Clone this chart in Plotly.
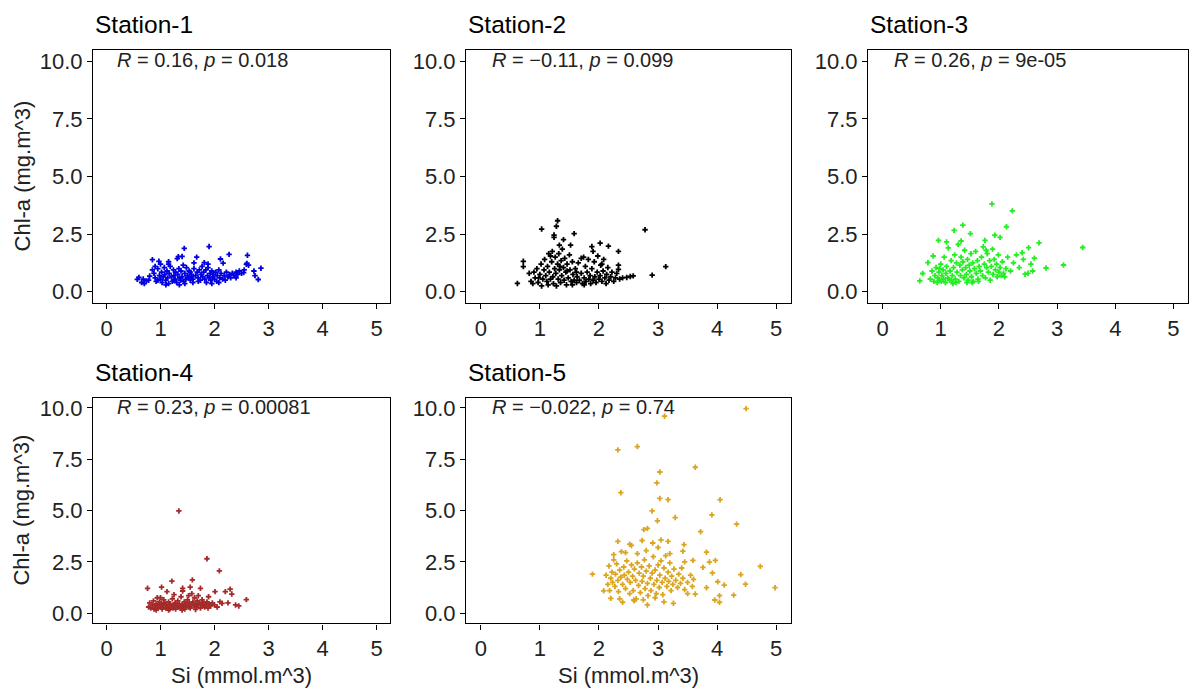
import plotly.graph_objects as go

# ---------------- data ----------------
station_names = ["Station-1", "Station-2", "Station-3", "Station-4", "Station-5"]
station_colors = ["#0000E0", "#000000", "#22EE22", "#A52A2A", "#DAA520"]
cor_labels = [
    "<i>R</i> = 0.16, <i>p</i> = 0.018",
    "<i>R</i> = \u22120.11, <i>p</i> = 0.099",
    "<i>R</i> = 0.26, <i>p</i> = 9e-05",
    "<i>R</i> = 0.23, <i>p</i> = 0.00081",
    "<i>R</i> = \u22120.022, <i>p</i> = 0.74",
]
x_ticks = [0, 1, 2, 3, 4, 5]
y_ticks = [0, 2.5, 5, 7.5, 10]
y_tick_labels = ["0.0", "2.5", "5.0", "7.5", "10.0"]

station1_points = [
    (0.57,0.54),(0.65,0.40),(0.74,0.47),(0.60,0.62),(0.68,0.55),(0.70,0.35),(0.78,0.50),(0.80,0.68),
    (0.85,1.39),(0.97,1.32),(1.15,1.30),(1.31,1.44),(1.33,1.52),(1.40,1.53),(1.44,1.88),(1.67,1.50),
    (1.81,1.26),(1.90,1.96),(2.11,1.42),(2.16,1.24),(2.27,1.62),(2.61,1.58),(2.60,1.23),(2.59,1.19),
    (2.63,1.15),(2.86,1.02),(2.73,0.90),(2.75,0.70),(2.81,0.53),(2.54,0.83),
    (0.85,0.95),(0.88,0.80),(0.90,0.60),(0.92,0.45),(0.95,1.00),(0.98,0.70),(1.00,0.55),(1.02,0.85),
    (1.03,0.40),(1.05,0.65),(1.07,1.05),(1.08,0.75),(1.10,0.50),(1.12,0.90),(1.13,0.60),(1.15,0.35),
    (1.16,0.80),(1.18,1.10),(1.20,0.65),(1.22,0.45),(1.24,0.95),(1.25,0.70),(1.27,0.55),(1.28,0.85),
    (1.30,0.40),(1.32,0.75),(1.34,1.00),(1.35,0.60),(1.37,0.50),(1.38,0.90),(1.40,0.65),(1.42,1.15),
    (1.43,0.45),(1.45,0.80),(1.47,0.55),(1.48,1.05),(1.50,0.70),(1.52,0.60),(1.53,0.90),(1.55,0.50),
    (1.57,0.75),(1.58,0.65),(1.60,0.55),(1.62,1.00),(1.65,0.70),(1.68,0.85),(1.70,0.60),(1.72,0.95),
    (1.74,0.50),(1.75,0.75),(1.77,1.10),(1.78,0.65),(1.80,0.85),(1.82,0.55),(1.84,0.95),(1.85,0.40),
    (1.87,0.70),(1.88,1.05),(1.90,0.60),(1.92,0.80),(1.93,0.50),(1.95,0.90),(1.97,0.65),(1.98,0.75),
    (2.00,0.55),(2.02,0.85),(2.04,0.45),(2.05,0.70),(2.08,0.95),(2.10,0.60),(2.12,0.80),(2.15,0.55),
    (2.18,0.70),(2.20,0.50),(2.22,0.85),(2.25,0.65),(2.28,0.75),(2.30,0.60),(2.33,0.80),(2.36,0.70),
    (2.40,0.85),(2.43,0.75),(2.46,0.90),(2.50,0.80),(2.55,0.95),(1.95,0.35),(1.45,0.35),(1.10,0.30),
    (1.60,0.40),(0.95,0.50),(1.25,0.50),(1.70,0.45),(2.08,0.40),(1.35,0.30),(1.55,0.85),(1.15,1.20),
    (0.90,1.10),(1.88,1.20),(1.62,1.25),(1.00,1.20),(2.40,0.60),
]

station2_points = [
    (1.30,3.08),(1.28,2.84),(1.03,2.72),(1.58,2.52),(1.24,2.46),(1.24,2.36),(1.40,2.26),(1.52,2.02),
    (1.33,2.02),(1.88,1.96),(2.02,2.11),(2.16,1.98),(2.33,1.75),(2.78,2.69),(3.13,1.09),(2.90,0.72),
    (2.33,1.15),(2.33,0.97),(0.72,1.32),(0.72,1.09),(0.62,0.36),(2.53,0.66),(2.47,0.62),(2.58,0.69),
    (0.82,0.80),(0.85,0.45),(0.88,0.35),(0.90,0.85),(0.92,0.60),(0.95,1.00),(0.97,0.40),(1.00,0.75),
    (1.02,1.20),(1.03,0.25),(1.05,0.55),(1.07,0.95),(1.08,1.40),(1.10,0.70),(1.12,0.45),(1.13,1.10),
    (1.15,1.65),(1.16,0.85),(1.18,0.55),(1.20,1.30),(1.21,1.75),(1.22,0.65),(1.23,0.35),(1.25,1.00),
    (1.26,1.50),(1.27,0.80),(1.28,0.25),(1.30,1.20),(1.31,0.55),(1.32,1.65),(1.33,0.95),(1.35,0.40),
    (1.36,1.35),(1.37,0.70),(1.38,1.85),(1.40,1.05),(1.41,0.50),(1.42,1.45),(1.44,0.85),(1.45,0.30),
    (1.46,1.20),(1.48,0.60),(1.50,1.60),(1.51,0.95),(1.53,0.45),(1.55,1.30),(1.56,0.75),(1.58,0.50),
    (1.60,1.00),(1.62,0.40),(1.63,0.65),(1.65,1.25),(1.67,0.50),(1.70,0.80),(1.72,0.35),(1.74,1.50),
    (1.75,0.60),(1.77,1.10),(1.78,0.45),(1.80,0.85),(1.82,1.40),(1.83,0.55),(1.85,0.70),(1.86,0.35),
    (1.88,1.00),(1.90,0.50),(1.92,1.30),(1.93,0.65),(1.95,0.40),(1.97,0.85),(1.98,1.55),(2.00,0.55),
    (2.02,0.70),(2.03,1.15),(2.05,0.45),(2.07,0.90),(2.08,1.40),(2.10,0.60),(2.12,0.35),(2.13,0.75),
    (2.15,1.05),(2.17,0.50),(2.20,0.65),(2.22,0.85),(2.25,0.45),(2.28,0.60),(2.30,0.80),(2.35,0.55),
    (2.40,0.60),(1.14,0.30),(1.55,0.30),(1.75,0.30),(0.98,0.60),(1.18,1.55),(1.34,1.10),(1.46,0.90),
    (1.62,0.85),(1.70,1.45),(1.90,1.75),(2.05,1.20),
]

station3_points = [
    (1.88,3.81),(2.23,3.51),(2.13,2.82),(1.38,2.89),(1.23,2.66),(1.51,2.52),(3.44,1.92),(3.11,1.16),
    (2.81,1.03),(2.69,2.12),(2.51,1.91),(2.61,1.46),(0.96,2.23),(1.10,2.16),(0.64,0.47),(0.69,0.79),
    (0.78,1.26),(0.87,1.55),(1.93,2.45),(2.02,2.36),(1.76,2.23),(2.40,1.69),(2.45,0.76),(2.58,0.90),
    (0.82,0.55),(0.85,0.90),(0.88,0.45),(0.90,0.70),(0.92,1.05),(0.94,0.40),(0.95,0.60),(0.97,0.85),
    (0.98,0.50),(1.00,1.20),(1.01,0.45),(1.02,0.70),(1.04,0.95),(1.05,0.55),(1.06,1.50),(1.08,0.40),
    (1.09,0.80),(1.10,1.10),(1.12,0.60),(1.13,1.90),(1.15,0.50),(1.16,0.90),(1.18,1.35),(1.20,0.70),
    (1.21,0.35),(1.22,1.05),(1.24,1.60),(1.25,0.55),(1.27,1.25),(1.28,0.85),(1.30,2.05),(1.31,0.45),
    (1.33,1.15),(1.34,0.70),(1.35,1.50),(1.37,0.95),(1.38,1.30),(1.40,0.60),(1.41,1.80),(1.43,1.05),
    (1.44,0.75),(1.46,1.40),(1.47,0.50),(1.49,1.15),(1.50,0.90),(1.52,1.65),(1.53,0.65),(1.55,1.25),
    (1.56,0.45),(1.58,1.00),(1.60,1.75),(1.61,0.80),(1.63,1.35),(1.64,0.55),(1.66,1.10),(1.68,0.90),
    (1.70,1.50),(1.72,0.70),(1.73,1.95),(1.75,1.20),(1.77,0.60),(1.79,1.05),(1.80,1.65),(1.82,0.85),
    (1.84,1.35),(1.85,0.50),(1.87,1.10),(1.89,1.85),(1.90,0.75),(1.92,1.40),(1.94,0.95),(1.96,1.20),
    (1.97,0.65),(1.99,1.60),(2.00,0.85),(2.02,1.05),(2.04,0.70),(2.06,1.30),(2.08,0.80),(2.10,0.65),
    (2.12,1.00),(2.15,1.50),(2.20,0.90),(2.25,1.25),(2.30,1.60),(2.35,1.05),(2.42,1.40),(2.50,0.80),
    (2.55,1.20),(1.18,0.50),(1.45,0.40),(1.65,0.45),(0.98,1.00),(1.26,0.40),(1.54,0.40),(1.78,1.80),
    (1.35,2.20),
]

station4_points = [
    (1.34,4.98),(1.86,2.65),(2.09,2.06),(1.21,1.56),(1.59,1.62),(0.76,1.21),(1.02,1.27),(1.41,1.21),
    (1.41,1.08),(1.55,1.27),(1.74,1.21),(2.01,1.05),(2.29,1.17),(2.20,1.05),(2.32,0.93),(2.59,0.66),
    (2.39,0.40),(2.45,0.35),(2.14,0.48),(1.89,0.80),(1.12,1.05),
    (0.78,0.30),(0.80,0.50),(0.82,0.25),(0.85,0.40),(0.87,0.60),(0.88,0.20),(0.90,0.35),(0.92,0.45),
    (0.94,0.75),(0.95,0.25),(0.97,0.40),(0.98,0.55),(1.00,0.30),(1.02,0.45),(1.03,0.20),(1.05,0.35),
    (1.06,0.65),(1.08,0.50),(1.10,0.25),(1.11,0.40),(1.13,0.30),(1.15,0.55),(1.17,0.20),(1.18,0.45),
    (1.20,0.35),(1.22,0.70),(1.23,0.25),(1.25,0.40),(1.27,0.50),(1.28,0.20),(1.30,0.35),(1.32,0.60),
    (1.33,0.30),(1.35,0.45),(1.37,0.25),(1.38,0.80),(1.40,0.40),(1.42,0.30),(1.44,0.55),(1.45,0.20),
    (1.47,0.45),(1.48,0.35),(1.50,0.65),(1.52,0.30),(1.53,0.50),(1.55,0.25),(1.57,0.40),(1.58,0.95),
    (1.60,0.55),(1.62,0.35),(1.63,0.75),(1.65,0.45),(1.67,0.30),(1.68,0.60),(1.70,0.40),(1.72,0.50),
    (1.74,0.25),(1.75,0.45),(1.77,0.65),(1.78,0.35),(1.80,0.50),(1.82,0.30),(1.84,0.40),(1.86,0.55),
    (1.88,0.25),(1.90,0.45),(1.93,0.35),(1.96,0.50),(2.00,0.40),(2.05,0.30),(2.10,0.55),(1.15,0.15),
    (1.40,0.15),(1.65,0.18),(0.92,0.15),(1.25,0.90),(1.52,0.85),(1.00,0.75),(1.70,0.85),(2.25,0.50),
]

station5_points = [
    (4.49,9.97),(3.11,9.60),(2.32,7.96),(2.65,8.12),(3.63,7.11),(3.03,6.88),(2.98,6.35),(2.37,5.87),
    (3.03,5.59),(3.17,5.53),(4.05,5.53),(2.90,4.98),(3.91,4.79),(2.99,4.50),(3.29,4.66),(4.33,4.34),
    (3.72,3.97),(2.76,4.07),(2.82,4.13),(2.32,3.50),(2.52,3.36),(2.73,3.54),(2.91,3.42),(3.05,3.57),
    (3.17,3.50),(3.44,3.34),(3.42,3.02),(3.82,2.97),(3.59,2.57),(3.76,2.23),(3.87,2.49),(3.97,2.57),
    (4.73,2.28),(3.92,1.96),(4.40,1.88),(4.48,1.41),(4.98,1.24),(4.01,1.53),(4.12,1.37),(3.82,1.24),
    (4.28,0.88),(4.04,0.85),(3.96,0.64),(4.04,0.53),(3.63,0.93),(1.89,1.90),(2.08,1.09),(2.20,0.72),
    (2.40,0.53),(2.59,0.64),(2.82,0.40),(3.26,0.48),
    (2.12,1.85),(2.15,1.40),(2.17,2.30),(2.18,1.10),(2.20,1.70),(2.22,2.00),(2.23,1.50),(2.25,2.85),
    (2.27,1.30),(2.28,1.90),(2.30,2.40),(2.32,1.60),(2.33,1.05),(2.35,2.10),(2.37,1.75),(2.38,3.00),
    (2.40,1.40),(2.42,2.25),(2.43,1.85),(2.45,1.20),(2.47,2.55),(2.48,1.65),(2.50,2.00),(2.52,0.95),
    (2.53,1.50),(2.55,2.35),(2.57,1.80),(2.58,1.10),(2.60,2.15),(2.62,1.60),(2.63,0.70),(2.65,2.45),
    (2.67,1.35),(2.68,1.95),(2.70,1.00),(2.72,2.25),(2.73,1.55),(2.75,1.80),(2.77,2.60),(2.78,1.20),
    (2.80,2.05),(2.82,1.45),(2.83,0.85),(2.85,2.30),(2.87,1.70),(2.88,1.10),(2.90,1.95),(2.92,2.75),
    (2.93,1.40),(2.95,2.10),(2.97,0.95),(2.98,1.60),(3.00,2.35),(3.02,1.25),(3.03,1.85),(3.05,2.55),
    (3.07,1.50),(3.08,0.90),(3.10,2.20),(3.12,1.70),(3.13,2.80),(3.15,1.30),(3.17,2.00),(3.18,1.55),
    (3.20,2.45),(3.22,1.10),(3.23,1.80),(3.25,1.40),(3.27,2.15),(3.30,1.60),(3.33,1.25),(3.35,1.90),
    (3.38,1.45),(3.42,1.70),(3.45,1.15),(3.50,1.50),(3.55,1.85),(3.58,1.30),(3.60,1.65),(2.60,0.60),
    (2.75,0.65),(2.95,0.75),(3.10,0.55),(2.35,0.70),(2.55,3.30),(2.80,3.05),(3.00,3.20),(3.20,2.90),
    (3.40,2.20),(2.45,2.95),(2.65,2.90),(2.25,2.60),(3.45,2.50),(3.50,0.95),
]

all_points = [station1_points, station2_points, station3_points, station4_points, station5_points]

x_title = "Si (mmol.m^3)"
y_title = "Chl-a (mg.m^3)"

# ---------------- layout geometry ----------------
W, H = 1198, 696
FONT = "Liberation Sans, Arial, sans-serif"
col_px = [(93, 390), (466, 791), (868, 1188)]
row_px = [(48, 303), (398, 625)]
panel_pos = [(0, 0), (0, 1), (0, 2), (1, 0), (1, 1)]

fig = go.Figure()
annotations = []

for i, (pts, name, color, lab) in enumerate(zip(all_points, station_names, station_colors, cor_labels)):
    r, c = panel_pos[i]
    k = "" if i == 0 else str(i + 1)
    xs = [p[0] for p in pts]
    ys = [p[1] for p in pts]
    fig.add_trace(go.Scatter(
        x=xs, y=ys, mode="markers", xaxis="x" + k, yaxis="y" + k,
        marker=dict(symbol="cross", size=4.5, color=color, line=dict(width=0)),
        showlegend=False, hoverinfo="x+y",
    ))
    x0, x1 = col_px[c]
    t0, t1 = row_px[r]
    xdom = [x0 / W, x1 / W]
    ydom = [1 - t1 / H, 1 - t0 / H]
    axis_common = dict(
        showline=True, mirror=True, linecolor="black", linewidth=1.2,
        ticks="outside", ticklen=5, tickwidth=1.2, tickcolor="black",
        showgrid=False, zeroline=False,
        tickfont=dict(family=FONT, size=22, color="#222222"),
    )
    fig.update_layout(**{
        "xaxis" + k: dict(domain=xdom, anchor="y" + k, range=[-0.25, 5.25],
                          tickvals=x_ticks, ticktext=[str(v) for v in x_ticks], **axis_common),
        "yaxis" + k: dict(domain=ydom, anchor="x" + k, range=[-0.5, 10.5],
                          tickvals=y_ticks, ticktext=y_tick_labels, **axis_common),
    })
    # station title
    annotations.append(dict(
        text=name, xref="paper", yref="paper", x=x0 / W, y=1 - (t0 - 25) / H,
        xanchor="left", yanchor="middle", showarrow=False,
        font=dict(family=FONT, size=24.5, color="black"),
    ))
    # correlation label
    annotations.append(dict(
        text=lab, xref="x" + k, yref="y" + k, x=0.16, y=10.05,
        xanchor="left", yanchor="middle", showarrow=False,
        font=dict(family=FONT, size=20, color="#222222"),
    ))

# y-axis titles (left column)
for (t0, t1) in row_px:
    annotations.append(dict(
        text=y_title, xref="paper", yref="paper", x=22 / W, y=1 - (t0 + t1) / 2 / H,
        xanchor="center", yanchor="middle", textangle=-90, showarrow=False,
        font=dict(family=FONT, size=22, color="#222222"),
    ))
# x-axis titles (bottom row)
for c in (0, 1):
    x0, x1 = col_px[c]
    annotations.append(dict(
        text=x_title, xref="paper", yref="paper", x=(x0 + x1) / 2 / W, y=1 - 677 / H,
        xanchor="center", yanchor="middle", showarrow=False,
        font=dict(family=FONT, size=22, color="#222222"),
    ))

fig.update_layout(
    width=W, height=H, margin=dict(l=0, r=0, t=0, b=0),
    paper_bgcolor="white", plot_bgcolor="white",
    annotations=annotations, showlegend=False,
    font=dict(family=FONT),
)

fig.write_html("out.html")
